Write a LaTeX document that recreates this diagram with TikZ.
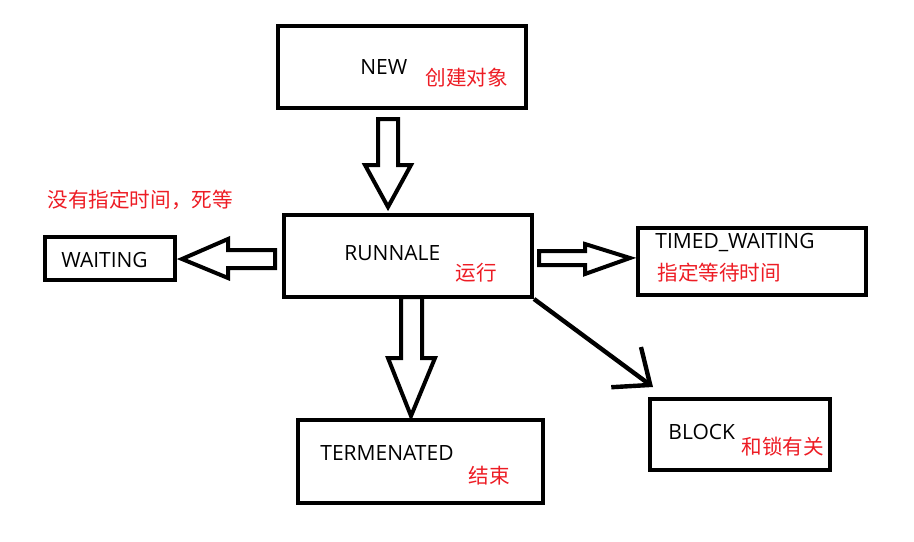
\documentclass[tikz,border=0pt]{standalone}
\usepackage{fontspec}
\setmainfont{Open Sans}
\newfontfamily\cjk{Noto Sans CJK SC}
\usepackage{tikz}
\usetikzlibrary{arrows.meta,calc}
\definecolor{paintred}{RGB}{237,28,36}

\tikzset{
  statebox/.style={draw, line width=2pt, inner sep=0pt},
  bigarrow/.style={draw, line width=2pt, fill=white},
  state/.style={inner sep=0pt, anchor=west, font=\fontsize{10.5}{12}\selectfont},
  note/.style={inner sep=0pt, anchor=west, text=paintred, font=\cjk\fontsize{10.3}{12}\selectfont}
}

\begin{document}
\begin{tikzpicture}[x=0.5pt, y=-0.5pt]
		\useasboundingbox (0,0) rectangle (914,541);
		
		% the state boxes
		\node[statebox, minimum width=124pt, minimum height=41pt] (new) at (402,67) {};
		\node[statebox, minimum width=124pt, minimum height=41pt] (run) at (408,256) {};
		\node[statebox, minimum width=122.5pt, minimum height=41.5pt] (term) at (420.5,461.5) {};
		\node[statebox, minimum width=65pt, minimum height=21.5pt] (wait) at (110,258.5) {};
		\node[statebox, minimum width=114pt, minimum height=33.5pt] (timed) at (752,261.5) {};
		\node[statebox, minimum width=90pt, minimum height=35.5pt] (block) at (740,434.5) {};
		
		% the labels
		\node[state] (newlbl) at (360,67) {NEW};
		\node[note] (newnote) at (425,78) {创建对象};
		\node[state] (runlbl) at (344,253) {RUNNALE};
		\node[note] (runnote) at (455,273) {运行};
		\node[state] (termlbl) at (320,453) {TERMENATED};
		\node[note] (termnote) at (468,476) {结束};
		\node[state] (waitlbl) at (61,260) {WAITING};
		\node[note] (waitnote) at (47,200) {没有指定时间，死等};
		\node[state] (timedlbl) at (655,243) {TIMED\_WAITING};
		\node[note] (timednote) at (657,273) {指定等待时间};
		\node[state] (blocklbl) at (668,432) {BLOCK};
		\node[note] (blocknote) at (741,447) {和锁有关};
		
		% the hollow arrows
		\draw[bigarrow] (378,119) -- (398,119) -- (398,165) -- (411,165) -- (388,207) -- (365,165) -- (378,165) -- cycle;
		\draw[bigarrow] (401,297) -- (422,297) -- (422,358) -- (435,358) -- (411,416) -- (388,358) -- (401,358) -- cycle;
		\draw[bigarrow] (275,250) -- (275,268) -- (228,268) -- (228,278) -- (182,259) -- (228,239) -- (228,250) -- cycle;
		\draw[bigarrow] (539,251) -- (539,265) -- (585,265) -- (585,274) -- (630,258) -- (585,244) -- (585,251) -- cycle;
		
		% the thin arrow to BLOCK
		\coordinate (tip) at ($(block.north west)+(5,-10)$);
		\draw[line width=2.2pt, -{Straight Barb[length=15pt, width=25pt]}] (run.south east) -- (tip);
\end{tikzpicture}
\end{document}
